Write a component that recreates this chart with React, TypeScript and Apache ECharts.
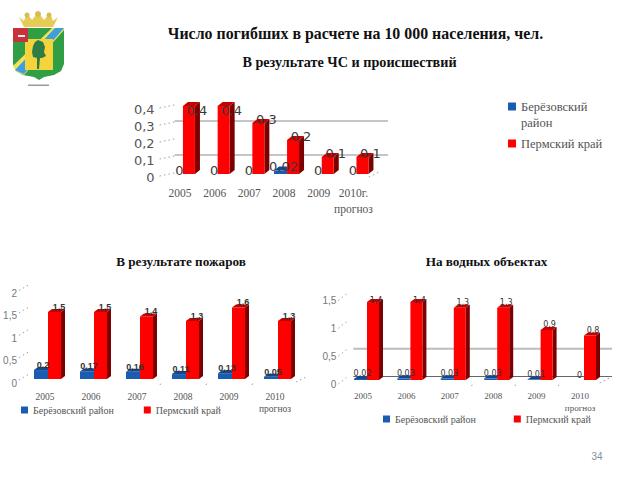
import React, { useEffect, useRef } from "react";
import * as echarts from "echarts";

const nameBlue = "Берёзовский район";
const nameRed = "Пермский край";

const yearsA = ["2005", "2006", "2007", "2008", "2009", "2010г.\nпрогноз"];
const yearsB = ["2005", "2006", "2007", "2008", "2009", "2010\nпрогноз"];

const emergencyBlue = [0, 0, 0, 0.02, 0, 0];
const emergencyRed = [0.4, 0.4, 0.3, 0.2, 0.1, 0.1];
const fireBlue = [0.2, 0.17, 0.16, 0.11, 0.13, 0.05];
const fireRed = [1.5, 1.5, 1.4, 1.3, 1.6, 1.3];
const waterBlue = [0.02, 0.03, 0.03, 0.03, 0.01, 0];
const waterRed = [1.4, 1.4, 1.3, 1.3, 0.9, 0.8];

const emergencyLines = [0.1, 0.3];
const waterLines = [0, 0.5];

const RED = "#ff0000";
const RED_SIDE = "#7d0000";
const RED_TOP = "#c40000";
const BLUE = "#1a5cb0";
const BLUE_TOP = "#14498f";
const fmt = (v: number) => String(v).replace(".", ",");

type Panel = {
  left: number; top: number; width: number; height: number; max: number; interval: number;
  cats: string[]; blue: number[]; red: number[];
  barW: number; shift: number; depth: number;
  lblFont: string; lblSize: number; lblWeight: string; lblColor: string;
  redLblDx: number; blueLblDx: number; lblUp: number;
  axisFont: string; axisSize: number; axisMargin: number; axisShift: number; axisColor: string;
  catSize: number; catLine: number; catMargin: number;
  lines: number[]; lineDy: number; lineRight: number; lineStyles: any[];
  tick: [number, number, number];
};

const panels: Panel[] = [
  {
    left: 162.6, top: 106, width: 208.2, height: 68, max: 0.4, interval: 0.1,
    cats: yearsA, blue: emergencyBlue, red: emergencyRed,
    barW: 12, shift: 3, depth: 5,
    lblFont: "DejaVu Sans", lblSize: 13, lblWeight: "normal", lblColor: "#3a3a3a",
    redLblDx: 14, blueLblDx: 3, lblUp: 4,
    axisFont: "DejaVu Sans", axisSize: 13, axisMargin: 8, axisShift: 3, axisColor: "#555",
    catSize: 11.5, catLine: 16, catMargin: 11,
    lines: emergencyLines, lineDy: -2, lineRight: 388,
    lineStyles: [{ stroke: "#8c8c8c", lineWidth: 1 }, { stroke: "#8c8c8c", lineWidth: 1 }],
    tick: [15, 2, -1],
  },
  {
    left: 22, top: 289.6, width: 276, height: 89.4, max: 2, interval: 0.5,
    cats: yearsB, blue: fireBlue, red: fireRed,
    barW: 13, shift: 3, depth: 4,
    lblFont: "Liberation Sans", lblSize: 9, lblWeight: "bold", lblColor: "#333",
    redLblDx: 11, blueLblDx: 2, lblUp: 5,
    axisFont: "Liberation Sans", axisSize: 10, axisMargin: 5, axisShift: 4, axisColor: "#777",
    catSize: 9.5, catLine: 12, catMargin: 12,
    lines: [], lineDy: 0, lineRight: 0, lineStyles: [],
    tick: [10, 1, -5],
  },
  {
    left: 341.3, top: 296.5, width: 260.4, height: 83.5, max: 1.5, interval: 0.5,
    cats: yearsB, blue: waterBlue, red: waterRed,
    barW: 12, shift: 4, depth: 4,
    lblFont: "DejaVu Sans", lblSize: 8, lblWeight: "normal", lblColor: "#333",
    redLblDx: 9, blueLblDx: 2, lblUp: 5,
    axisFont: "Liberation Sans", axisSize: 10, axisMargin: 5, axisShift: 4, axisColor: "#777",
    catSize: 9, catLine: 12, catMargin: 10,
    lines: waterLines, lineDy: -3.5, lineRight: 612,
    lineStyles: [{ stroke: "#666", lineWidth: 1 }, { stroke: "#bcbcbc", lineWidth: 2 }],
    tick: [10, 4, -4],
  },
];

function barRenderer(p: Panel, isRed: boolean) {
  return (params: any, api: any) => {
    const i = api.value(0);
    const v = api.value(1);
    const base = api.coord([i, 0]);
    const top = api.coord([i, v]);
    const d = p.depth;
    const w = isRed ? p.barW : p.barW + 1;
    const l = base[0] + p.shift - (isRed ? 0 : w);
    const r = l + w;
    const children: any[] = [];
    if (isRed) {
      children.push({ type: "polygon", shape: { points: [[r, top[1]], [r + d, top[1] - d + 1], [r + d, base[1] - d + 1], [r, base[1]]] }, style: { fill: RED_SIDE } });
      children.push({ type: "polygon", shape: { points: [[l, top[1]], [l + d, top[1] - d + 1], [r + d, top[1] - d + 1], [r, top[1]]] }, style: { fill: RED_TOP } });
      children.push({ type: "rect", shape: { x: l, y: top[1], width: w, height: base[1] - top[1] }, style: { fill: RED } });
    } else if (v > 0) {
      children.push({ type: "polygon", shape: { points: [[l, top[1]], [l + d, top[1] - d + 1], [r + d, top[1] - d + 1], [r, top[1]]] }, style: { fill: BLUE_TOP } });
      children.push({ type: "rect", shape: { x: l, y: top[1], width: w, height: base[1] - top[1] }, style: { fill: BLUE } });
    }
    return { type: "group", children };
  };
}

function labelRenderer(p: Panel, isRed: boolean) {
  return (params: any, api: any) => {
    const i = api.value(0);
    const v = api.value(1);
    const base = api.coord([i, 0]);
    const top = api.coord([i, v]);
    const w = isRed ? p.barW : p.barW + 1;
    const l = base[0] + p.shift - (isRed ? 0 : w);
    const cx = isRed ? l + p.redLblDx : l + w / 2 + p.blueLblDx;
    const ly = Math.max(top[1] - p.lblUp, p.top + 4);
    return {
      type: "text",
      style: {
        x: cx, y: ly, text: fmt(v), fill: p.lblColor, font: `${p.lblWeight} ${p.lblSize}px "${p.lblFont}"`,
        align: "center", verticalAlign: "middle",
      },
    };
  };
}

function wallRenderer(p: Panel, gridIdx: number) {
  return (params: any, api: any) => {
    const children: any[] = [];
    const cs = params.coordSys;
    const dotted = { stroke: "#a0a0a0", lineWidth: 1, lineDash: [1.5, 3] };
    for (let t = 0; t <= p.max + 1e-6; t += p.interval) {
      const c = api.coord([0, t]);
      children.push({ type: "line", shape: { x1: cs.x - 3, y1: c[1] + p.tick[1], x2: cs.x - 3 + p.tick[0], y2: c[1] + p.tick[2] }, style: dotted });
    }
    p.lines.forEach((val, k) => {
      const c = api.coord([0, val]);
      children.push({ type: "line", shape: { x1: cs.x + 12, y1: c[1] + p.lineDy, x2: p.lineRight, y2: c[1] + p.lineDy }, style: p.lineStyles[k] });
    });
    const by = cs.y + cs.height;
    for (let k = 2; k <= p.cats.length; k++) {
      const x = cs.x + (cs.width * k) / p.cats.length;
      if (k === p.cats.length) {
        children.push({ type: "line", shape: { x1: x - 2, y1: by + 3, x2: x + 10, y2: by - 3 }, style: dotted });
      } else if (gridIdx > 0 && k >= 3) {
        children.push({ type: "line", shape: { x1: x, y1: by + 6, x2: x + 1, y2: by + 4 }, style: dotted });
      }
    }
    return { type: "group", children };
  };
}

const shieldPts = [[13, 28], [64, 28], [64, 64], [61, 71], [54, 75], [44, 77], [39, 80], [34, 77], [23, 75], [16, 71], [13, 64]];
const crownPts = [[19, 17], [24, 21], [27, 13], [32, 20], [38, 12], [44, 20], [50, 13], [53, 21], [58, 17], [53, 27], [24, 27]];
const treePts = [[38, 40], [43, 42], [45, 47], [44, 52], [46, 56], [42, 58], [40, 58], [39, 69], [37, 69], [37, 58], [33, 57], [32, 52], [33, 46], [35, 42]];

function logo() {
  return [
    { type: "polygon", shape: { points: crownPts }, style: { fill: "#e6cc55" } },
    { type: "circle", shape: { cx: 27, cy: 15, r: 2.5 }, style: { fill: "#d8bc50" } },
    { type: "circle", shape: { cx: 38, cy: 14, r: 3 }, style: { fill: "#d8bc50" } },
    { type: "circle", shape: { cx: 49, cy: 15, r: 2.5 }, style: { fill: "#d8bc50" } },
    { type: "polygon", shape: { points: shieldPts }, style: { fill: "#2f9e44" } },
    { type: "polygon", shape: { points: [[13, 66], [52, 28], [64, 28], [64, 30], [24, 75], [16, 71]] }, style: { fill: "#f2e25a" } },
    { type: "polygon", shape: { points: [[15, 70], [55, 28], [64, 28], [24, 74]] }, style: { fill: "#3d9fe0" } },
    { type: "rect", shape: { x: 25, y: 39, width: 28, height: 31 }, style: { fill: "#f5d33a" } },
    { type: "rect", shape: { x: 13, y: 28, width: 15, height: 14 }, style: { fill: "#c8323c" } },
    { type: "rect", shape: { x: 18, y: 35, width: 7, height: 2 }, style: { fill: "#eeeeee" } },
    { type: "polygon", shape: { points: treePts }, style: { fill: "#2e7d46" } },
    { type: "rect", shape: { x: 28, y: 84.5, width: 21, height: 1.5 }, style: { fill: "#9a9a9a" } },
  ];
}

function textEl(text: string, x: number, y: number, font: string, fill = "#111", align = "center") {
  return { type: "text", x, y, style: { text, font, fill, align, verticalAlign: "middle" } };
}

export default function App() {
  const ref = useRef<HTMLDivElement>(null);
  useEffect(() => {
    const chart = echarts.init(ref.current!, undefined, { renderer: "svg" });
    const grid = panels.map((p) => ({ left: p.left, top: p.top, width: p.width, height: p.height }));
    const xAxis = panels.map((p, i) => ({
      type: "category", gridIndex: i, data: p.cats,
      axisLine: { show: false }, axisTick: { show: false },
      axisLabel: {
        interval: 0, margin: p.catMargin, color: "#555",
        fontFamily: "Liberation Serif", fontSize: p.catSize, lineHeight: p.catLine,
        verticalAlign: "top",
      },
    }));
    const yAxis = panels.map((p, i) => ({
      type: "value", gridIndex: i, min: 0, max: p.max, interval: p.interval,
      axisLine: { show: false }, axisTick: { show: false }, splitLine: { show: false },
      axisLabel: {
        margin: p.axisMargin, color: p.axisColor, fontFamily: p.axisFont, fontSize: p.axisSize,
        verticalAlign: "top", lineHeight: p.axisShift * 2,
        formatter: (v: number) => fmt(v),
      },
    }));
    const series: any[] = [];
    panels.forEach((p, i) => {
      const common = { type: "custom", xAxisIndex: i, yAxisIndex: i, silent: true, encode: { x: 0, y: 1 } };
      const blueData = p.blue.map((v, k) => [k, v]);
      const redData = p.red.map((v, k) => [k, v]);
      series.push({ ...common, name: "wall" + i, z: 1, data: [[0, 0]], renderItem: wallRenderer(p, i) });
      series.push({ ...common, name: nameBlue, z: 2, itemStyle: { color: BLUE }, data: blueData, renderItem: barRenderer(p, false) });
      series.push({ ...common, name: nameRed, z: 3, itemStyle: { color: RED }, data: redData, renderItem: barRenderer(p, true) });
      series.push({ ...common, name: "blueLabels" + i, z: 4, data: blueData, renderItem: labelRenderer(p, false) });
      series.push({ ...common, name: "redLabels" + i, z: 4, data: redData, renderItem: labelRenderer(p, true) });
    });
    const legendText = { fontFamily: "Liberation Serif", color: "#555" };
    const legendBase = { icon: "rect", selectedMode: false, padding: 0 };
    chart.setOption({
      animation: false,
      backgroundColor: "#fff",
      grid, xAxis, yAxis, series,
      legend: [
        {
          ...legendBase, left: 508, top: 100, itemWidth: 8, itemHeight: 8,
          data: [nameBlue],
          formatter: () => "Берёзовский",
          textStyle: { ...legendText, fontSize: 12.5 },
        },
        {
          ...legendBase, left: 508, top: 137, itemWidth: 8, itemHeight: 8,
          data: [nameRed],
          textStyle: { ...legendText, fontSize: 12.5 },
        },
        {
          ...legendBase, left: 21, top: 405, itemWidth: 7, itemHeight: 7, itemGap: 30,
          data: [nameBlue, nameRed],
          textStyle: { ...legendText, fontSize: 10 },
        },
        {
          ...legendBase, left: 383, top: 414, itemWidth: 7, itemHeight: 7, itemGap: 38,
          data: [nameBlue, nameRed],
          textStyle: { ...legendText, fontSize: 10 },
        },
      ],
      graphic: [
        ...logo(),
        textEl("район", 521, 123, '12.5px "Liberation Serif"', "#555", "left"),
        textEl("Число погибших в расчете на 10 000 населения, чел.", 355.5, 33, 'bold 15.9px "Liberation Serif"'),
        textEl("В результате ЧС и происшествий", 349.5, 62, 'bold 14.2px "Liberation Serif"'),
        textEl("В результате пожаров", 181, 261, 'bold 13.2px "Liberation Serif"'),
        textEl("На водных объектах", 486.5, 261, 'bold 13.2px "Liberation Serif"'),
        textEl("34", 597, 456, '10px "Liberation Sans"', "#7f8fa0"),
      ],
    });
    return () => chart.dispose();
  }, []);
  return <div ref={ref} style={{ position: "absolute", left: 0, top: 0, width: 640, height: 480 }} />;
}
